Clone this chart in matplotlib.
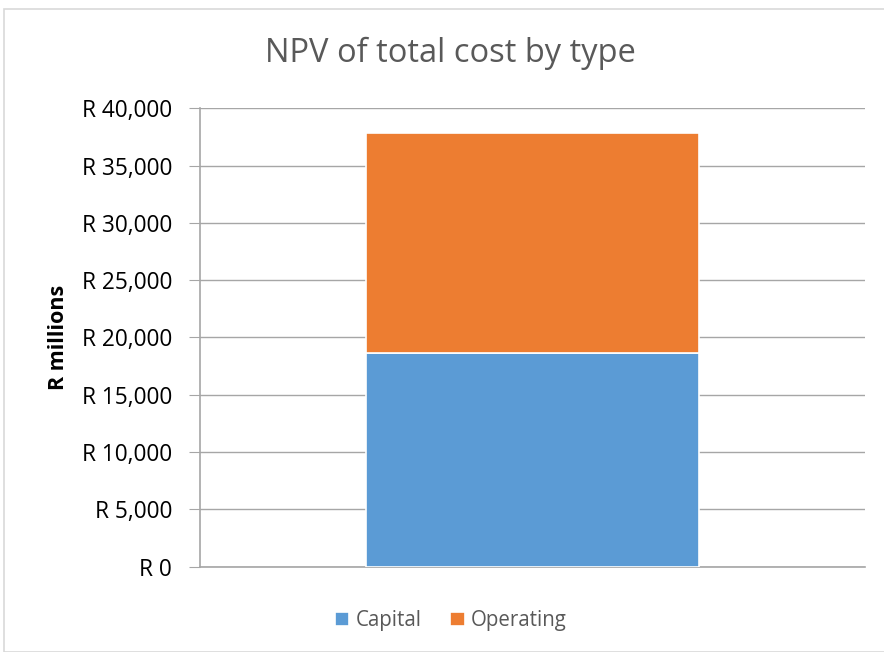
import matplotlib
matplotlib.use('Agg')
import matplotlib.pyplot as plt
from matplotlib.patches import Rectangle
from matplotlib.ticker import FuncFormatter

# Chart data
categories = ['Total']
capital = [18650]
operating = [19200]
series_names = ['Capital', 'Operating']
colors = ['#5b9bd5', '#ed7d31']
yticks = [0, 5000, 10000, 15000, 20000, 25000, 30000, 35000, 40000]

plt.rcParams['font.family'] = ['Open Sans', 'DejaVu Sans']

fig = plt.figure(figsize=(8.84, 6.52), dpi=100)
ax = fig.add_axes([0.226, 0.131, 0.7525, 0.703])

# outer chart border
fig.patches.append(Rectangle((0.005, 0.0), 1.2, 0.986, transform=fig.transFigure,
                             fill=False, edgecolor='#d9d9d9', linewidth=1.2))

ax.bar(categories, capital, width=0.5, color=colors[0], edgecolor='white',
       linewidth=1.2, label=series_names[0], zorder=3)
ax.bar(categories, operating, width=0.5, bottom=capital, color=colors[1],
       edgecolor='white', linewidth=1.2, label=series_names[1], zorder=3)

ax.set_xlim(-0.5, 0.5)
ax.set_ylim(0, 40000)
ax.set_yticks(yticks)
ax.yaxis.set_major_formatter(FuncFormatter(lambda v, p: 'R {:,.0f}'.format(v)))
ax.set_xticks([])
ax.grid(axis='y', color='#a6a6a6', linewidth=1.0, zorder=0)
for s in ['top', 'right']:
    ax.spines[s].set_visible(False)
for s in ['left', 'bottom']:
    ax.spines[s].set_color('#a6a6a6')
    ax.spines[s].set_linewidth(1.2)
ax.tick_params(axis='y', length=8, color='#a6a6a6', labelsize=16.3, labelcolor='black', pad=12)

ax.set_ylabel('R millions', fontsize=15.5, fontweight='bold')
ax.yaxis.set_label_coords(-0.197, 0.5)
fig.text(0.509, 0.918, 'NPV of total cost by type', ha='center', va='center',
         fontsize=23.5, color='#595959')

fig.legend(loc='center', bbox_to_anchor=(0.51, 0.048), ncol=2, frameon=False,
           fontsize=14.8, handlelength=0.7, handleheight=0.7, handletextpad=0.3,
           columnspacing=1.4, labelcolor='#595959')

fig.savefig('out.png', dpi=100)
